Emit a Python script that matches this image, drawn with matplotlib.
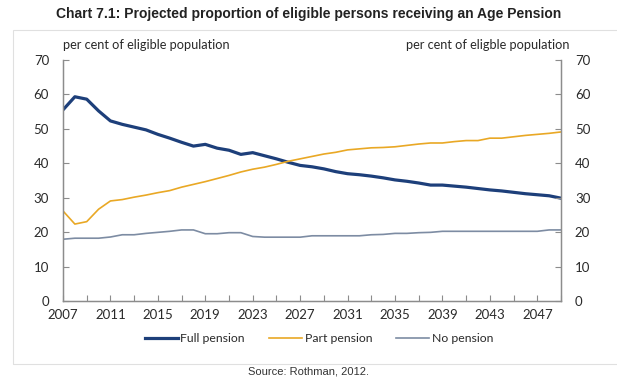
import matplotlib.pyplot as plt
from matplotlib.patches import Rectangle
import numpy as np

years = list(range(2007, 2050))
full_pension = [55.4, 59.2, 58.5, 55.1, 52.2, 51.2, 50.4, 49.6, 48.3, 47.2,
                46.0, 44.9, 45.4, 44.3, 43.7, 42.5, 43.0, 42.1, 41.2, 40.2,
                39.3, 38.9, 38.3, 37.5, 36.9, 36.6, 36.2, 35.7, 35.1, 34.7,
                34.2, 33.6, 33.6, 33.3, 33.0, 32.6, 32.2, 31.9, 31.5, 31.1,
                30.8, 30.5, 29.8]
part_pension = [26.1, 22.3, 23.0, 26.6, 29.0, 29.4, 30.1, 30.7, 31.4, 32.0,
                33.0, 33.8, 34.6, 35.5, 36.4, 37.4, 38.2, 38.8, 39.6, 40.5,
                41.2, 41.9, 42.6, 43.1, 43.8, 44.1, 44.4, 44.5, 44.7, 45.1,
                45.5, 45.8, 45.8, 46.2, 46.5, 46.5, 47.2, 47.2, 47.6, 48.0,
                48.3, 48.6, 49.0]
no_pension = [17.9, 18.2, 18.2, 18.2, 18.55, 19.2, 19.2, 19.6, 19.9, 20.2,
              20.6, 20.6, 19.5, 19.5, 19.8, 19.8, 18.7, 18.5, 18.5, 18.5,
              18.5, 18.9, 18.9, 18.9, 18.9, 18.9, 19.2, 19.3, 19.6, 19.6,
              19.8, 19.9, 20.2, 20.2, 20.2, 20.2, 20.2, 20.2, 20.2, 20.2,
              20.2, 20.6, 20.6]
series_names = ["Full pension", "Part pension", "No pension"]

font = "Lato"
axis_color = "#8c8c8c"
text_color = "#2a2a2a"

fig = plt.figure(figsize=(6.17, 3.88), dpi=100)
fig.patches.append(Rectangle((13 / 617, 1 - 364 / 388), 1.2, 334 / 388,
                             transform=fig.transFigure, fill=False,
                             edgecolor="#e0e0e0", linewidth=0.8))

ax = fig.add_axes([63 / 617, 1 - 301 / 388, 498 / 617, 241.5 / 388])
x = np.arange(len(years))
ax.plot(x, full_pension, color="#1d3f7a", lw=2.3, label=series_names[0])
ax.plot(x, part_pension, color="#e9a825", lw=1.2, label=series_names[1])
ax.plot(x, no_pension, color="#7d8ca3", lw=1.2, label=series_names[2])

ax.set_xlim(0, len(years) - 1)
ax.set_ylim(0, 70)
ax.set_xticks(x[::2])
ax.set_xticklabels([str(y) if (y - 2007) % 4 == 0 else "" for y in years[::2]],
                   fontfamily=font, fontsize=9.5)
ax.set_yticks(range(0, 71, 10))
ax.tick_params(axis="both", direction="in", length=4, color=axis_color,
               labelsize=9.5, labelcolor=text_color)
ax.tick_params(axis="x", pad=6)
ax.tick_params(axis="y", pad=10)
for lab in ax.get_yticklabels():
    lab.set_fontfamily(font)
ax.spines["top"].set_visible(False)
for s in ["left", "bottom", "right"]:
    ax.spines[s].set_color(axis_color)
    ax.spines[s].set_linewidth(1.0)

ax2 = ax.twinx()
ax2.set_ylim(0, 70)
ax2.set_yticks(range(0, 71, 10))
ax2.tick_params(axis="y", direction="in", length=4, color=axis_color,
                labelsize=9.5, labelcolor=text_color, pad=10)
for lab in ax2.get_yticklabels():
    lab.set_fontfamily(font)
ax2.spines["top"].set_visible(False)
for s in ["left", "bottom", "right"]:
    ax2.spines[s].set_color(axis_color)

fig.text(0.5, 1 - 14 / 388, "Chart 7.1: Projected proportion of eligible persons receiving an Age Pension",
         ha="center", va="center", fontsize=10, fontweight="bold",
         fontfamily="Liberation Sans", color="#222222")
fig.text(63 / 617, 1 - 45 / 388, "per cent of eligible population",
         ha="left", va="center", fontsize=9.2, fontfamily=font, color=text_color)
fig.text(569 / 617, 1 - 45 / 388, "per cent of eligble population",
         ha="right", va="center", fontsize=9.2, fontfamily=font, color=text_color)

fig.legend(loc="center", bbox_to_anchor=(319 / 617, 1 - 339 / 388), ncol=3,
           frameon=False, prop={"family": font, "size": 8.8},
           handlelength=2.7, handletextpad=0.2, columnspacing=2.0,
           labelcolor=text_color)

fig.text(0.5, 1 - 372 / 388, "Source: Rothman, 2012.", ha="center", va="center",
         fontsize=8, fontfamily="Liberation Sans", color="#333333")

fig.savefig("out.png", dpi=100)
